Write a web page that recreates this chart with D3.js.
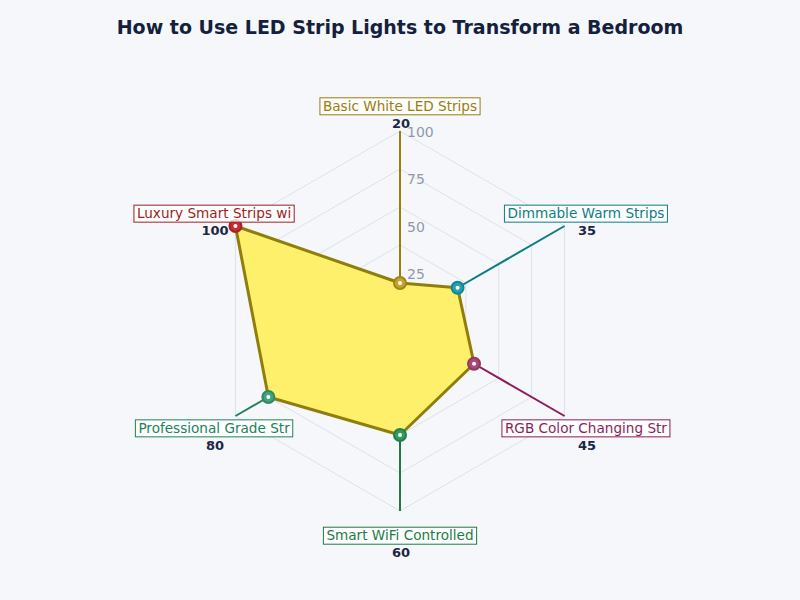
<!DOCTYPE html>
<html lang="en">
<head>
<meta charset="UTF-8">
<title>How to Use LED Strip Lights to Transform a Bedroom</title>
<style>
  body { margin: 0; background: #f5f7fb; }
  svg { display: block; font-family: "DejaVu Sans", sans-serif; }
</style>
</head>
<body>
<div id="chart"></div>
<script src="https://d3js.org/d3.v7.min.js"></script>
<script>
const categories = [
  "Basic White LED Strips",
  "Dimmable Warm Strips",
  "RGB Color Changing Strips",
  "Smart WiFi Controlled",
  "Professional Grade Strips",
  "Luxury Smart Strips with App Control"
];
const values = [20, 35, 45, 60, 80, 100];
const textColors = ["#9a7d0a", "#0e7c86", "#8b1e5a", "#1e7b45", "#23805a", "#a01d24"];
const markerColors = ["#c9a227", "#1fa3b0", "#b0457a", "#2f9e5c", "#3fa77a", "#cc2a31"];
const gridLevels = [20, 40, 60, 80, 100];
const tickLabels = [25, 50, 75, 100];

const width = 800, height = 600;
const cx = 400, cy = 321, R = 190;

const svg = d3.select("#chart").append("svg")
  .attr("width", width).attr("height", height);

svg.append("rect").attr("width", width).attr("height", height).attr("fill", "#f5f7fb");

svg.append("text")
  .attr("x", 400).attr("y", 34)
  .attr("text-anchor", "middle")
  .attr("font-size", 19).attr("font-weight", "bold")
  .attr("fill", "#14213d")
  .text("How to Use LED Strip Lights to Transform a Bedroom");

const r = d3.scaleLinear().domain([0, 100]).range([0, R]);
const angle = d3.scaleLinear().domain([0, categories.length]).range([0, 2 * Math.PI]);
const pt = (i, v) => [cx + r(v) * Math.sin(angle(i)), cy - r(v) * Math.cos(angle(i))];

const g = svg.append("g");

// hexagon grid
gridLevels.forEach(lv => {
  g.append("polygon")
    .attr("points", categories.map((c, i) => pt(i, lv).join(",")).join(" "))
    .attr("fill", "none")
    .attr("stroke", "#dde2ea")
    .attr("stroke-width", 1);
});
categories.forEach((c, i) => {
  const [x, y] = pt(i, 100);
  g.append("line").attr("x1", cx).attr("y1", cy).attr("x2", x).attr("y2", y)
    .attr("stroke", "#dde2ea").attr("stroke-width", 1);
});

// tick labels
g.selectAll(".tick").data(tickLabels).enter().append("text")
  .attr("x", cx + 7)
  .attr("y", d => cy - r(d) + 1)
  .attr("dy", "0.35em")
  .attr("font-size", 14)
  .attr("fill", "#9099aa")
  .text(d => d);

// spokes from value to outer edge
categories.forEach((c, i) => {
  const [x1, y1] = pt(i, values[i]);
  const [x2, y2] = pt(i, 100);
  g.append("line").attr("x1", x1).attr("y1", y1).attr("x2", x2).attr("y2", y2)
    .attr("stroke", textColors[i]).attr("stroke-width", 2);
});

// data polygon
g.append("polygon")
  .attr("points", values.map((v, i) => pt(i, v).join(",")).join(" "))
  .attr("fill", "#fff06c")
  .attr("stroke", "#8f7e0c")
  .attr("stroke-width", 3)
  .attr("stroke-linejoin", "round");

// markers
values.forEach((v, i) => {
  const [x, y] = pt(i, v);
  g.append("circle").attr("cx", x).attr("cy", y).attr("r", 6)
    .attr("fill", markerColors[i])
    .attr("stroke", d3.color(markerColors[i]).darker(0.6))
    .attr("stroke-width", 2);
  g.append("circle").attr("cx", x).attr("cy", y).attr("r", 2).attr("fill", "#fff");
});

// category labels with boxes
categories.forEach((c, i) => {
  const [x, y] = pt(i, 113);
  const lg = g.append("g");
  const t = lg.append("text")
    .attr("x", x).attr("y", y)
    .attr("dy", "0.35em")
    .attr("text-anchor", "middle")
    .attr("font-size", 13.6)
    .attr("fill", textColors[i])
    .text(c.slice(0, 22));
  const w = t.node().getComputedTextLength();
  lg.insert("rect", "text")
    .attr("x", x - w / 2 - 3).attr("y", y - 8.5)
    .attr("width", w + 6).attr("height", 17)
    .attr("fill", "#ffffff").attr("fill-opacity", 0.8)
    .attr("stroke", textColors[i]).attr("stroke-width", 1);
  lg.append("text")
    .attr("x", x + 1).attr("y", y + 17)
    .attr("dy", "0.35em")
    .attr("text-anchor", "middle")
    .attr("font-size", 13).attr("font-weight", "bold")
    .attr("fill", "#1b2745")
    .text(values[i]);
});
</script>
</body>
</html>
